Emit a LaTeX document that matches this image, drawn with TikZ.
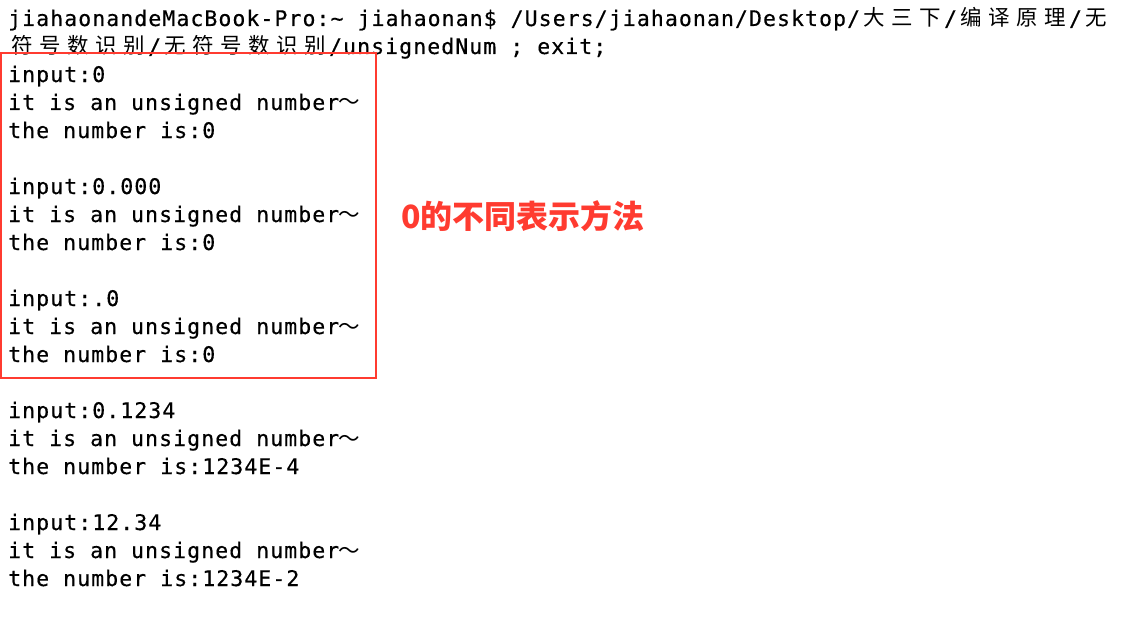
\documentclass[tikz,border=0pt]{standalone}
\usepackage{fontspec}
\usepackage{xcolor}
\usepackage{tikz}
\setmonofont[LetterSpace=5,FakeBold=0.4]{DejaVu Sans Mono}
\newfontfamily\cjk{Noto Sans CJK SC}
\definecolor{termred}{HTML}{FF3B30}
\newcommand{\cw}[1]{\makebox[28pt]{\cjk #1}}
\newcommand{\wave}{\makebox[20pt]{\cjk ～}}
\newcommand{\termfont}{\ttfamily\fontsize{21.5}{28}\selectfont}

\begin{document}
\begin{tikzpicture}[x=1pt,y=-1pt]
        \tikzset{term/.style = {anchor=base west, inner sep=0pt, font=\termfont}}
        \tikzset{redbox/.style = {draw=termred, line width=2.5pt}}
        \tikzset{note/.style = {inner sep=0pt, text=termred, font=\cjk\bfseries\fontsize{32}{36}\selectfont}}
        \useasboundingbox (0,0) rectangle (1122,618);
        % command line
        \node[term] (hdr1) at (8,26) {jiahaonandeMacBook-Pro:\textasciitilde{} jiahaonan\$ /Users/jiahaonan/Desktop/\cw{大}\cw{三}\cw{下}/\cw{编}\cw{译}\cw{原}\cw{理}/\cw{无}};
        \node[term] (hdr2) at (8,54) {\cw{符}\cw{号}\cw{数}\cw{识}\cw{别}/\cw{无}\cw{符}\cw{号}\cw{数}\cw{识}\cw{别}/unsignedNum ; exit;};
        % run 1
        \node[term] (in1) at (8,82) {input:0};
        \node[term] (msg1) at (8,110) {it is an unsigned number\wave};
        \node[term] (num1) at (8,138) {the number is:0};
        % run 2
        \node[term] (in2) at (8,194) {input:0.000};
        \node[term] (msg2) at (8,222) {it is an unsigned number\wave};
        \node[term] (num2) at (8,250) {the number is:0};
        % run 3
        \node[term] (in3) at (8,306) {input:.0};
        \node[term] (msg3) at (8,334) {it is an unsigned number\wave};
        \node[term] (num3) at (8,362) {the number is:0};
        % run 4
        \node[term] (in4) at (8,418) {input:0.1234};
        \node[term] (msg4) at (8,446) {it is an unsigned number\wave};
        \node[term] (num4) at (8,474) {the number is:1234E-4};
        % run 5
        \node[term] (in5) at (8,530) {input:12.34};
        \node[term] (msg5) at (8,558) {it is an unsigned number\wave};
        \node[term] (num5) at (8,586) {the number is:1234E-2};
        % highlight
        \draw[redbox] (1,53) rectangle (376,378);
        \node[note] (zero) at (523,216) {0的不同表示方法};
\end{tikzpicture}
\end{document}
